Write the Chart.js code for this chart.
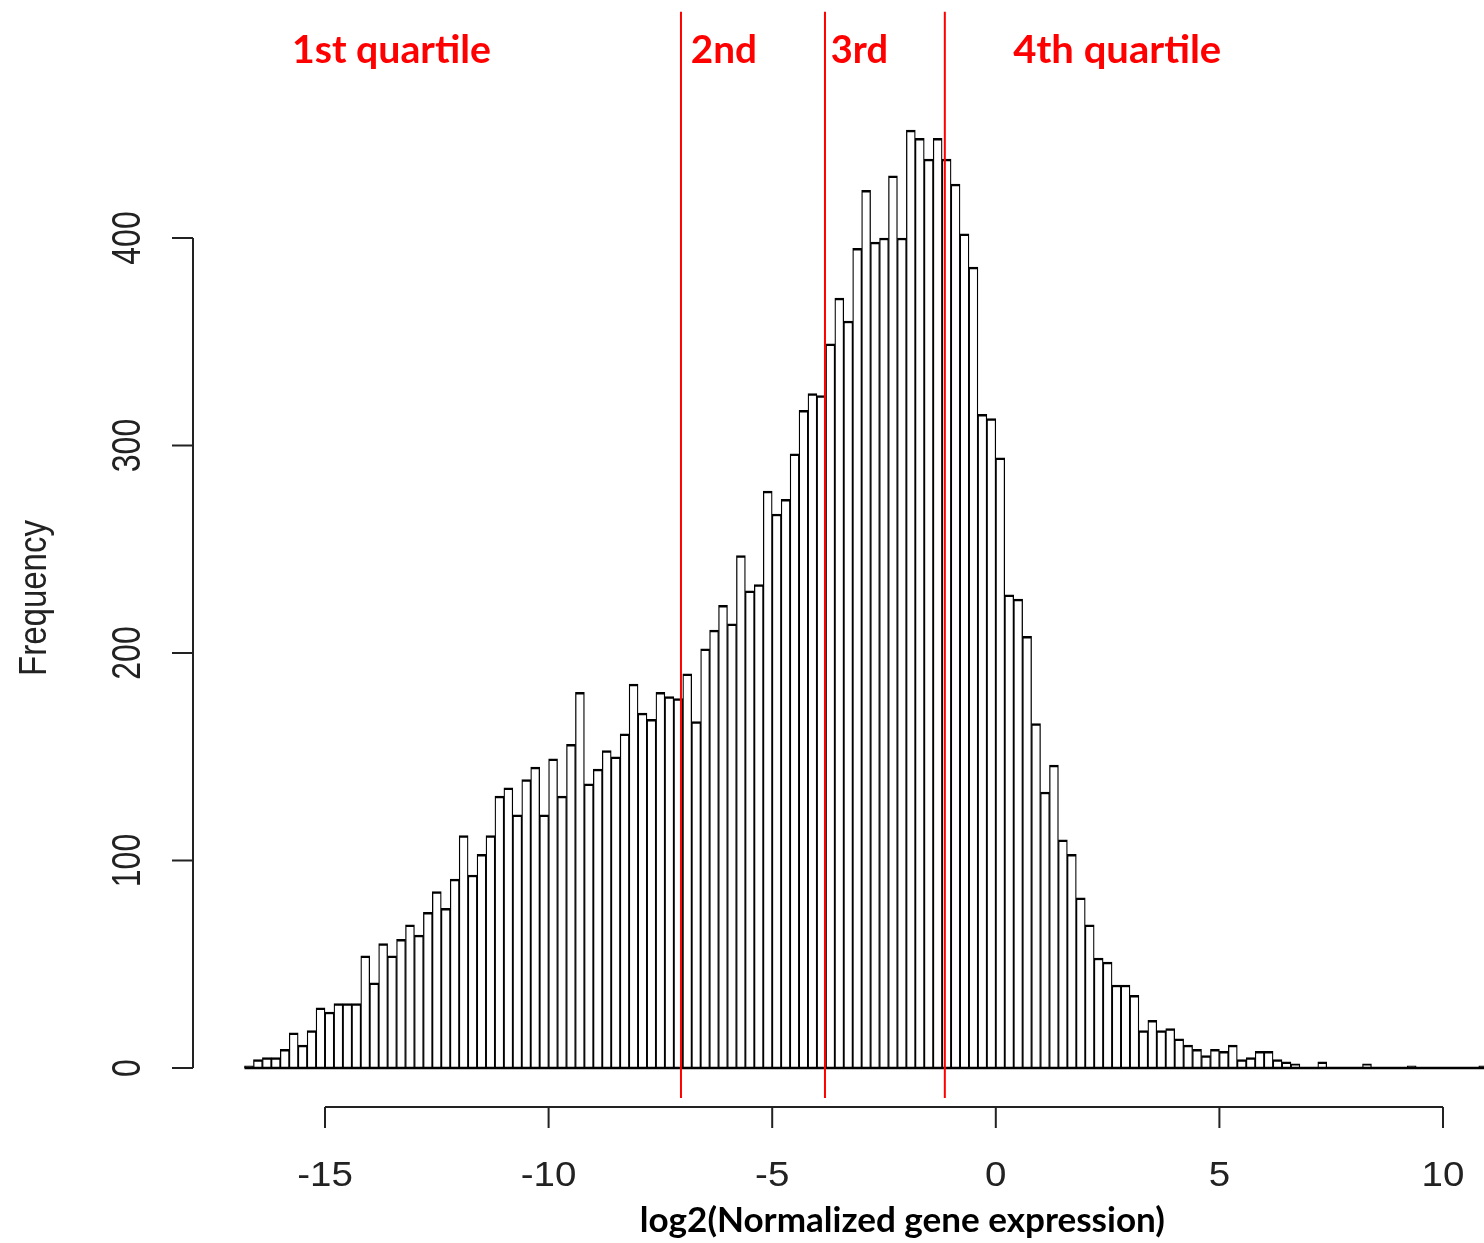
<!DOCTYPE html>
<html>
<head>
<meta charset="utf-8">
<script src="https://cdn.jsdelivr.net/npm/chart.js@4.4.0/dist/chart.umd.min.js"></script>
<style>
  html, body { margin: 0; padding: 0; background: #fff; }
  #hist { display: block; }
</style>
</head>
<body>
<canvas id="hist" width="1484" height="1243"></canvas>
<script>
// histogram bins: left edge of first bin and bin width (log2 units)
const binStart = -16.8;
const binWidth = 0.2;

// counts per bin
const counts = [
  1, 4, 5, 5, 9, 17, 11, 18, 29, 27,
  31, 31, 31, 54, 41, 60, 54, 62, 69, 64,
  75, 85, 77, 91, 112, 93, 103, 112, 131, 135,
  122, 139, 145, 122, 149, 131, 156, 181, 137, 144,
  153, 150, 161, 185, 171, 168, 181, 179, 178, 190,
  167, 202, 211, 223, 214, 247, 230, 233, 278, 267,
  274, 296, 317, 325, 324, 349, 371, 360, 395, 423,
  398, 400, 430, 400, 452, 448, 438, 448, 438, 426,
  402, 386, 315, 313, 294, 228, 226, 208, 166, 133,
  146, 110, 103, 82, 69, 53, 51, 40, 40, 35,
  18, 23, 18, 19, 14, 11, 9, 6, 9, 8,
  11, 4, 5, 8, 8, 4, 3, 2, 0, 0,
  3, 0, 0, 0, 0, 2, 0, 0, 0, 0,
  1, 0, 0, 0, 0, 0, 0, 0, 1
];

const xTicks = [-15, -10, -5, 0, 5, 10];
const yTicks = [0, 100, 200, 300, 400];

// quartile cut points (red lines) and the labels between them
const quartileCuts = [-7.04, -3.82, -1.14];
const quartileLabels = ["1st quartile", "2nd", "3rd", "4th quartile"];
const quartileLabelSpan = [[-15.74, -11.29], [-6.82, -5.34], [-3.69, -2.41], [0.39, 5.04]];

const xTitle = "log2(Normalized gene expression)";
const xTitleSpan = [-7.96, 3.78];
const yTitle = "Frequency";

const binData = counts.map((c, i) => ({ x: binStart + binWidth * (i + 0.5), y: c }));

// text helper: optional horizontal stretch, fit to a width, or rotate
function drawText(ctx, text, x, y, o) {
  ctx.save();
  ctx.font = o.font;
  ctx.fillStyle = o.color || "#222";
  ctx.textAlign = o.align || "left";
  ctx.textBaseline = "alphabetic";
  let sx = o.stretch || 1;
  if (o.fitWidth) sx = o.fitWidth / ctx.measureText(text).width;
  ctx.translate(x, y);
  ctx.scale(sx, 1);
  if (o.rotate) ctx.rotate(-Math.PI / 2);
  ctx.fillText(text, 0, 0);
  ctx.restore();
}

const rAxes = {
  id: "rAxes",
  afterDraw(chart) {
    const ctx = chart.ctx;
    const xs = chart.scales.x;
    const ys = chart.scales.y;
    const y0 = ys.getPixelForValue(0);

    ctx.save();
    ctx.strokeStyle = "#000";
    ctx.lineWidth = 2.5;
    // zero-count bins still show as a base line
    ctx.beginPath();
    ctx.moveTo(xs.getPixelForValue(binStart), y0);
    ctx.lineTo(xs.getPixelForValue(binStart + binWidth * counts.length), y0);
    ctx.stroke();

    // y axis (R style: from first to last tick)
    ctx.strokeStyle = "#222";
    ctx.lineWidth = 2;
    const ax = 193;
    ctx.beginPath();
    ctx.moveTo(ax, ys.getPixelForValue(yTicks[0]));
    ctx.lineTo(ax, ys.getPixelForValue(yTicks[yTicks.length - 1]));
    yTicks.forEach(t => {
      const p = ys.getPixelForValue(t);
      ctx.moveTo(ax, p);
      ctx.lineTo(ax - 21, p);
    });
    ctx.stroke();
    yTicks.forEach(t => {
      drawText(ctx, String(t), 140, ys.getPixelForValue(t),
        { font: "32px 'Liberation Sans'", align: "center", rotate: true, stretch: 1.25 });
    });

    // x axis
    const ay = 1107;
    ctx.beginPath();
    ctx.moveTo(xs.getPixelForValue(xTicks[0]), ay);
    ctx.lineTo(xs.getPixelForValue(xTicks[xTicks.length - 1]), ay);
    xTicks.forEach(t => {
      const p = xs.getPixelForValue(t);
      ctx.moveTo(p, ay);
      ctx.lineTo(p, ay + 21);
    });
    ctx.stroke();
    xTicks.forEach(t => {
      drawText(ctx, String(t), xs.getPixelForValue(t), 1186,
        { font: "35px 'Liberation Sans'", align: "center", stretch: 1.1 });
    });

    // axis titles
    drawText(ctx, yTitle, 46, 598,
      { font: "33px 'Liberation Sans'", align: "center", rotate: true, stretch: 1.2 });
    const tL = xs.getPixelForValue(xTitleSpan[0]), tR = xs.getPixelForValue(xTitleSpan[1]);
    drawText(ctx, xTitle, tL, 1232,
      { font: "bold 35px Lato", color: "#000", fitWidth: tR - tL });

    // quartile cuts
    ctx.strokeStyle = "#ff0000";
    ctx.lineWidth = 2;
    quartileCuts.forEach(q => {
      const p = xs.getPixelForValue(q);
      ctx.beginPath();
      ctx.moveTo(p, ys.getPixelForValue(509));
      ctx.lineTo(p, ys.getPixelForValue(-14.5));
      ctx.stroke();
    });
    quartileLabels.forEach((s, i) => {
      const l = xs.getPixelForValue(quartileLabelSpan[i][0]);
      const r = xs.getPixelForValue(quartileLabelSpan[i][1]);
      drawText(ctx, s, l, 63, { font: "bold 39px Lato", color: "#ff0000", fitWidth: r - l });
    });
    ctx.restore();
  }
};

new Chart(document.getElementById("hist"), {
  type: "bar",
  data: {
    datasets: [{
      data: binData,
      backgroundColor: "#ffffff",
      borderColor: "#000000",
      borderWidth: { top: 2.5, left: 1.3, right: 1.3, bottom: 0 },
      borderSkipped: "start",
      barPercentage: 1.0,
      categoryPercentage: 1.0
    }]
  },
  options: {
    responsive: false,
    devicePixelRatio: 1,
    animation: false,
    layout: { padding: { left: 0, right: 0, top: 0, bottom: 143 } },
    plugins: { legend: { display: false }, tooltip: { enabled: false } },
    scales: {
      x: { type: "linear", display: false, min: -22.2675, max: 10.9167, offset: false },
      y: { type: "linear", display: false, min: -15.42, max: 514.70 }
    }
  },
  plugins: [rAxes]
});
</script>
</body>
</html>
